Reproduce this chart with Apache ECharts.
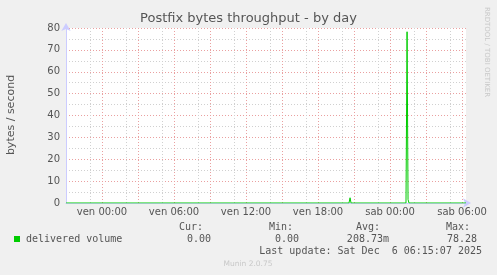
<!DOCTYPE html>
<html>
<head>
<meta charset="utf-8">
<script src="https://cdn.jsdelivr.net/npm/echarts@6/dist/echarts.min.js"></script>
<style>
html,body{margin:0;padding:0;background:#f0f0f0;}
#c{width:497px;height:275px;}
</style>
</head>
<body>
<div id="c"></div>
<script>
// Hours relative to Sat 00:00 (5-minute samples, only the changes)
const sampleHours = [-27, -3.42, -3.33, -3.25, 1.33, 1.42, 1.5, 1.58, 6.33];
const deliveredVolume = [0, 0, 2.4, 0, 0, 78.28, 1.6, 0, 0];
const xTickHours = [-24, -18, -12, -6, 0, 6];
const xTickLabels = ['ven 00:00', 'ven 06:00', 'ven 12:00', 'ven 18:00', 'sab 00:00', 'sab 06:00'];
const yTicks = [0, 10, 20, 30, 40, 50, 60, 70, 80];
const legendName = 'delivered volume';
const statHeaders = ['Cur:', 'Min:', 'Avg:', 'Max:'];
const statValues = ['0.00', '0.00', '208.73m', '78.28'];
const lastUpdate = 'Last update: Sat Dec  6 06:15:07 2025';

const chart = echarts.init(document.getElementById('c'), null, {renderer: 'canvas'});
const sans = 'DejaVu Sans';
const txt = '#555555';
const statRight = [203, 293, 380, 470];
const valRight = [211, 299, 389, 477];

const graphics = [
  {type: 'text', left: 'center', top: 12, style: {text: 'Postfix bytes throughput - by day', font: '13px "DejaVu Sans"', fill: txt}},
  {type: 'text', x: 11, y: 115, rotation: Math.PI / 2, style: {text: 'bytes / second', font: '11px "DejaVu Sans"', fill: txt, align: 'center', verticalAlign: 'middle'}},
  {type: 'text', x: 487, y: 52, rotation: -Math.PI / 2, style: {text: 'RRDTOOL / TOBI OETIKER', font: '7px "DejaVu Sans"', fill: '#c8c8c8', align: 'center', verticalAlign: 'middle'}},
  {type: 'rect', shape: {x: 14, y: 236, width: 6, height: 6}, style: {fill: '#00cc00'}},
  {type: 'text', x: 26, y: 239.5, style: {text: legendName, font: '10px "DejaVu Sans Mono"', fill: txt, verticalAlign: 'middle'}},
  {type: 'text', x: 482, y: 251.5, style: {text: lastUpdate, font: '10px "DejaVu Sans Mono"', fill: txt, align: 'right', verticalAlign: 'middle'}},
  {type: 'text', x: 248, y: 264, style: {text: 'Munin 2.0.75', font: '7.5px "DejaVu Sans"', fill: '#c8c8c8', align: 'center', verticalAlign: 'middle'}}
];
statHeaders.forEach((h, i) => {
  graphics.push({type: 'text', x: statRight[i], y: 227.5, style: {text: h, font: '10px "DejaVu Sans Mono"', fill: txt, align: 'right', verticalAlign: 'middle'}});
  graphics.push({type: 'text', x: valRight[i], y: 239.5, style: {text: statValues[i], font: '10px "DejaVu Sans Mono"', fill: txt, align: 'right', verticalAlign: 'middle'}});
});

chart.setOption({
  animation: false,
  backgroundColor: '#f0f0f0',
  grid: {left: 66, right: 31, top: 28, bottom: 72, show: true, backgroundColor: '#ffffff', borderWidth: 0},
  xAxis: [
    {
      type: 'value', min: -27, max: 6.33, interval: 3,
      axisLine: {show: true, onZero: false, lineStyle: {color: '#ccccff', width: 1}, symbol: ['none', 'arrow'], symbolSize: [7, 8], symbolOffset: [0, 5]},
      axisTick: {show: false},
      axisLabel: {
        margin: 4, color: txt, fontFamily: sans, fontSize: 10, showMaxLabel: false, showMinLabel: false,
        formatter: v => { const i = xTickHours.indexOf(Math.round(v * 100) / 100); return i >= 0 ? xTickLabels[i] : ''; }
      },
      splitLine: {show: true, showMinLine: false, showMaxLine: false, lineStyle: {color: '#eaa0a0', type: [1, 2], width: 1}},
      z: 3
    },
    {
      type: 'value', min: -27, max: 6.33, interval: 1, position: 'bottom',
      axisLine: {show: false, onZero: false}, axisTick: {show: false}, axisLabel: {show: false},
      splitLine: {show: true, showMinLine: false, showMaxLine: false, lineStyle: {color: ['rgba(0,0,0,0)', '#d0d0d0', '#d0d0d0'], type: [1, 2], width: 1}},
      z: 1
    }
  ],
  yAxis: {
    type: 'value', min: yTicks[0], max: yTicks[yTicks.length - 1], interval: 10,
    axisLine: {show: true, onZero: false, lineStyle: {color: '#ccccff', width: 1}, symbol: ['none', 'arrow'], symbolSize: [7, 8], symbolOffset: [0, 5]},
    axisTick: {show: false},
    axisLabel: {margin: 6, color: txt, fontFamily: sans, fontSize: 10},
    splitLine: {show: true, showMinLine: false, lineStyle: {color: '#eaa0a0', type: [1, 2], width: 1}},
    minorTick: {show: false, splitNumber: 2},
    minorSplitLine: {show: true, lineStyle: {color: '#d0d0d0', type: [1, 2], width: 1}}
  },
  series: [{
    type: 'line', xAxisIndex: 0,
    data: sampleHours.map((h, i) => [h, deliveredVolume[i]]),
    symbol: 'none', lineStyle: {color: '#00cc00', width: 1}, itemStyle: {color: '#00cc00'}, z: 5
  }],
  graphic: graphics
});
</script>
</body>
</html>
